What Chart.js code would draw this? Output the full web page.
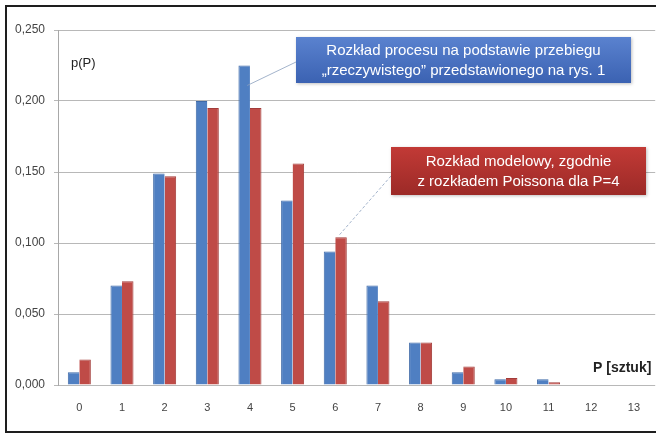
<!DOCTYPE html>
<html>
<head>
<meta charset="utf-8">
<script src="https://cdn.jsdelivr.net/npm/chart.js@4.4.1/dist/chart.umd.min.js"></script>
<style>
  html, body { margin: 0; padding: 0; background: #ffffff; }
  #wrap { position: relative; width: 656px; height: 437px; overflow: hidden; }
  #frame { position: absolute; left: 5px; top: 5px; width: 660px; height: 428px; border: 2px solid #1e1e1e; box-sizing: border-box; pointer-events: none; }
  canvas { position: absolute; left: 0; top: 0; }
</style>
</head>
<body>
<div id="wrap">
  <canvas id="c" width="656" height="437"></canvas>
  <div id="frame"></div>
</div>
<script>
// Number of items P
const categories = ['0', '1', '2', '3', '4', '5', '6', '7', '8', '9', '10', '11', '12', '13'];
// Distribution obtained from the measured ("real") run
const observed = [0.009, 0.070, 0.149, 0.200, 0.225, 0.130, 0.094, 0.070, 0.030, 0.009, 0.004, 0.004, 0.000, 0.000];
// Model distribution (Poisson, P = 4)
const model = [0.018, 0.073, 0.147, 0.195, 0.195, 0.156, 0.104, 0.059, 0.030, 0.013, 0.005, 0.002, 0.000, 0.000];
const yTicks = [0, 0.05, 0.10, 0.15, 0.20, 0.25];

const observedNote = ['Rozkład procesu na podstawie przebiegu', '„rzeczywistego” przedstawionego na rys. 1'];
const modelNote = ['Rozkład modelowy, zgodnie', 'z rozkładem Poissona dla P=4'];
const yTitle = 'p(P)';
const xTitle = 'P [sztuk]';

const FONT = '"Liberation Sans", Arial, sans-serif';

function fmt(v) { return v.toFixed(3).replace('.', ','); }

// Callout boxes with leader lines to the bars they describe
const callouts = {
  id: 'callouts',
  afterDatasetsDraw(chart) {
    const ctx = chart.ctx;
    const drawBox = (x, y, w, h, c1, c2, lines, target) => {
      ctx.save();
      // leader line
      ctx.strokeStyle = 'rgba(140,160,190,0.8)';
      ctx.lineWidth = 1;
      ctx.setLineDash(target.dash || []);
      ctx.beginPath();
      ctx.moveTo(target.fromX, target.fromY);
      ctx.lineTo(target.x, target.y);
      ctx.stroke();
      ctx.setLineDash([]);
      const g = ctx.createLinearGradient(0, y, 0, y + h);
      g.addColorStop(0, c1);
      g.addColorStop(1, c2);
      ctx.fillStyle = g;
      ctx.shadowColor = 'rgba(0,0,0,0.25)';
      ctx.shadowBlur = 3;
      ctx.shadowOffsetX = 1;
      ctx.shadowOffsetY = 1;
      ctx.fillRect(x, y, w, h);
      ctx.shadowColor = 'transparent';
      ctx.fillStyle = '#ffffff';
      ctx.font = '15px ' + FONT;
      ctx.textAlign = 'center';
      ctx.textBaseline = 'middle';
      lines.forEach((t, i) => ctx.fillText(t, x + w / 2, y + h / 2 + 1 + (i - (lines.length - 1) / 2) * 20));
      ctx.restore();
    };
    const m0 = chart.getDatasetMeta(0);
    const m1 = chart.getDatasetMeta(1);
    const b4 = m0.data[4];
    const r6 = m1.data[6];
    drawBox(296, 37, 335, 46, '#5a82cf', '#3b62b2', observedNote,
      { fromX: 296, fromY: 62, x: b4.x + 3, y: b4.y + 20 });
    drawBox(391, 147, 255, 48, '#c23a36', '#9c2a27', modelNote,
      { fromX: 391, fromY: 176, x: r6.x - 2, y: r6.y - 2, dash: [3, 2] });

    ctx.save();
    ctx.fillStyle = '#222222';
    ctx.font = '13px ' + FONT;
    ctx.textBaseline = 'middle';
    ctx.fillText(yTitle, 71, 63);
    ctx.font = 'bold 14px ' + FONT;
    ctx.fillText(xTitle, 593, 368);
    ctx.restore();
  }
};

new Chart(document.getElementById('c'), {
  type: 'bar',
  data: {
    labels: categories,
    datasets: [
      { label: 'observed', data: observed, backgroundColor: '#4f7fc2', borderColor: '#3f6aa8', borderWidth: { left: 1, right: 0, top: 1, bottom: 0 } },
      { label: 'model', data: model, backgroundColor: '#bf4b47', borderColor: '#a23c39', borderWidth: { left: 0, right: 1, top: 1, bottom: 0 } }
    ]
  },
  options: {
    responsive: false,
    animation: false,
    devicePixelRatio: 1,
    layout: { padding: { top: 30, left: 0, right: 0, bottom: 0 } },
    plugins: { legend: { display: false }, tooltip: { enabled: false } },
    datasets: { bar: { categoryPercentage: 0.54, barPercentage: 1.0 } },
    scales: {
      x: {
        grid: { display: false, drawTicks: false },
        border: { display: false },
        ticks: { color: '#444444', font: { family: FONT, size: 11 }, padding: 16, maxRotation: 0 },
        afterFit(s) { s.height = 52; }
      },
      y: {
        min: 0,
        max: 0.25,
        afterBuildTicks(s) { s.ticks = yTicks.map(v => ({ value: v })); },
        grid: { color: '#b8b8b8', lineWidth: 1, tickLength: 4, tickColor: '#b8b8b8' },
        border: { display: true, color: '#a8a8a8' },
        ticks: { color: '#444444', font: { family: FONT, size: 12 }, padding: 9, callback: v => fmt(v) },
        afterFit(s) { s.width = 58; }
      }
    }
  },
  plugins: [callouts]
});
</script>
</body>
</html>
